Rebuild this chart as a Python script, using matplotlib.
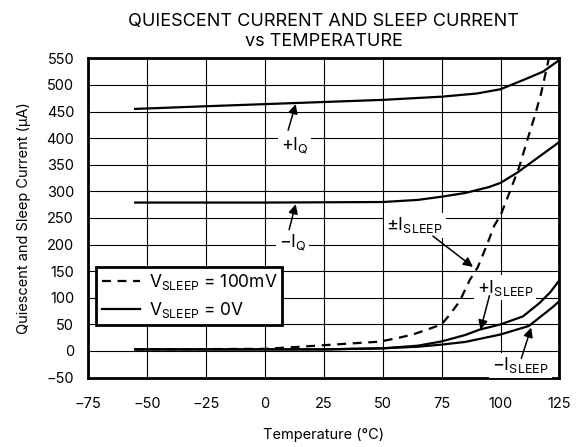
import matplotlib
matplotlib.use("Agg")
import matplotlib.pyplot as plt
from matplotlib.lines import Line2D

FONT = 'Inter'
plt.rcParams['font.family'] = [FONT, 'DejaVu Sans']
plt.rcParams['mathtext.fontset'] = 'custom'
plt.rcParams['mathtext.rm'] = FONT
plt.rcParams['mathtext.it'] = FONT
plt.rcParams['axes.unicode_minus'] = True

# ---- data ----
temp_iq = [-55, -25, 0, 25, 50, 75, 90, 100, 110, 118, 125]
plus_iq = [455, 460, 464, 468, 472, 478, 484, 492, 510, 525, 547]

temp_miq = [-55, 0, 50, 65, 75, 85, 95, 100, 107, 116, 125]
minus_iq = [279, 279, 280, 284, 290, 297, 308, 316, 335, 364, 393]

temp_sleep_dash = [-55, 0, 15, 36, 48.7, 57, 62.8, 70, 75, 78.4, 82.6, 86.9, 90.4,
                   93.9, 97.5, 100, 104, 108, 111.6, 114.4, 117.2, 120.5]
sleep_100mv = [3, 4, 8, 14, 17.5, 25, 31, 42, 50, 68, 93, 133, 158,
               196, 237, 255, 300, 347, 400, 440, 484, 550]

temp_psleep = [-55, 0, 25, 50, 65, 75, 85, 91, 100, 109.5, 116.5, 121, 125]
plus_sleep = [3, 3, 3, 5, 10, 18, 30, 40, 50, 65, 90, 110, 133]

temp_msleep = [-55, 0, 25, 50, 65, 75, 85, 100, 112, 118, 122, 125]
minus_sleep = [3, 3, 3, 5, 8, 12, 17, 31, 47, 68, 82, 94]

x_ticks = [-75, -50, -25, 0, 25, 50, 75, 100, 125]
y_ticks = [-50, 0, 50, 100, 150, 200, 250, 300, 350, 400, 450, 500, 550]

title_text = "QUIESCENT CURRENT AND SLEEP CURRENT\nvs TEMPERATURE"
x_label = "Temperature (°C)"
y_label = "Quiescent and Sleep Current (μA)"

FS = 10.5       # ticks and axis labels
FS_TITLE = 13
FS_LEG = 12.5
FS_ANN = 13

# ---- figure ----
fig = plt.figure(figsize=(5.82, 4.47), dpi=100)
ax = fig.add_axes([0.1512, 0.1553, 0.8101, 0.7141])

ax.set_xlim(-75, 125)
ax.set_ylim(-50, 550)
ax.set_xticks(x_ticks)
ax.set_yticks(y_ticks)
ax.grid(True, color='black', linewidth=0.8)
ax.set_axisbelow(True)
for s in ax.spines.values():
    s.set_linewidth(2)
ax.tick_params(length=0, labelsize=FS)
ax.tick_params(axis='x', pad=14)
ax.tick_params(axis='y', pad=10)

lw = 1.6
ax.plot(temp_iq, plus_iq, color='black', lw=lw)
ax.plot(temp_miq, minus_iq, color='black', lw=lw)
ax.plot(temp_psleep, plus_sleep, color='black', lw=lw)
ax.plot(temp_msleep, minus_sleep, color='black', lw=lw)
ax.plot(temp_sleep_dash, sleep_100mv, color='black', lw=lw, dashes=(4, 3))

ax.set_title(title_text, fontsize=FS_TITLE, pad=9, linespacing=1.2)
ax.set_xlabel(x_label, fontsize=FS, labelpad=12)
ax.set_ylabel(y_label, fontsize=FS, labelpad=11)

box = dict(facecolor='white', edgecolor='none', pad=2.0)
arrow = dict(arrowstyle='-|>', color='black', lw=1.1, mutation_scale=14, shrinkA=0, shrinkB=0)

def label(txt, pos, tail, tip):
    ax.text(pos[0], pos[1], txt, fontsize=FS_ANN, ha='center', va='center', bbox=box, zorder=5)
    ax.annotate('', xy=tip, xytext=tail, arrowprops=arrow, zorder=6)

label(r'+I$_{\mathrm{Q}}$', (12.7, 385), (9.9, 415), (13.1, 464))
label(r'−I$_{\mathrm{Q}}$', (11.9, 203), (10.3, 228), (13.1, 276))
label(r'±I$_{\mathrm{SLEEP}}$', (63.6, 236), (71.3, 216), (88.3, 158))
label(r'+I$_{\mathrm{SLEEP}}$', (102, 119), (95.3, 104), (91.5, 40))
label(r'−I$_{\mathrm{SLEEP}}$', (108.5, -27), (108.8, -14), (113, 44))

handles = [Line2D([], [], color='black', lw=lw, dashes=(4, 3)),
           Line2D([], [], color='black', lw=lw)]
labels = [r'V$_{\mathrm{SLEEP}}$ = 100mV', r'V$_{\mathrm{SLEEP}}$ = 0V']
leg = ax.legend(handles, labels, loc='upper left', bbox_to_anchor=(0.018, 0.347),
                borderaxespad=0, fancybox=False, framealpha=1, edgecolor='black',
                fontsize=FS_LEG, handlelength=2.2, handletextpad=0.5,
                borderpad=0.3, labelspacing=0.45)
leg.get_frame().set_linewidth(2)
leg.set_zorder(10)

fig.savefig('out.png', dpi=100)
